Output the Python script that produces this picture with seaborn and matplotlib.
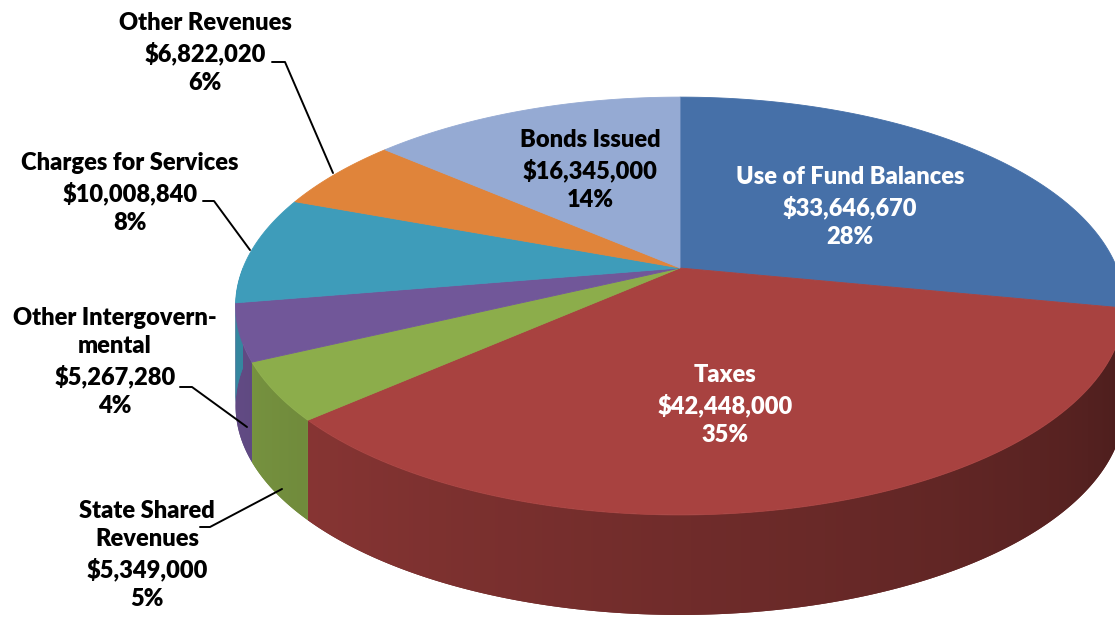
import numpy as np
import matplotlib
matplotlib.use("Agg")
import matplotlib.pyplot as plt
from matplotlib.patches import Polygon
import matplotlib.colors as mcolors
import seaborn as sns

# Revenue sources, clockwise from 12 o'clock
categories = ["Use of Fund Balances", "Taxes", "State Shared\nRevenues",
              "Other Intergovern-\nmental", "Charges for Services",
              "Other Revenues", "Bonds Issued"]
amounts = [33646670, 42448000, 5349000, 5267280, 10008840, 6822020, 16345000]
pct_labels = ["28%", "35%", "5%", "4%", "8%", "6%", "14%"]
colors = ["#4670A8", "#A84240", "#8CAD4B", "#715799", "#3E9CBA", "#E0843A", "#95AAD3"]

sns.set_theme(style="white")
plt.rcParams["font.family"] = ["Lato", "DejaVu Sans"]
palette = sns.color_palette(colors)

W, H = 1115, 618
fig = plt.figure(figsize=(W / 100, H / 100), dpi=100)
ax = fig.add_axes([0, 0, 1, 1])
ax.set_xlim(0, W)
ax.set_ylim(H, 0)
ax.axis("off")

# perspective ellipse geometry (pixel space)
CX, CY = 680, 268
A, B, K = 437, 202, 0.182
DEPTH = 100


def proj(phi_deg, r=1.0):
    phi = np.radians(phi_deg)
    u = r * np.sin(phi)
    v = -r * np.cos(phi)
    s = 1.0 / (1.0 - K * v)
    return CX + A * u * s, CY + B * v * s


total = float(sum(amounts))
bounds = np.concatenate([[0.0], np.cumsum(amounts) / total * 360.0])


def side_shade(phi):
    # darker toward the right-hand side of the rim
    t = np.clip((phi - 100.0) / 150.0, 0, 1)
    return 0.42 + 0.44 * t ** 0.9


# lookup from screen x to rim angle on the visible front half
phi_lut = np.linspace(90.0, 270.0, 2001)
x_lut, _ = proj(phi_lut)
order = np.argsort(x_lut)
x_sorted, phi_sorted = x_lut[order], phi_lut[order]

# rim (only the front half is visible), shaded with a horizontal gradient
for i, c in enumerate(palette):
    a0, a1 = bounds[i], bounds[i + 1]
    lo, hi = max(a0, 90.0), min(a1, 270.0)
    if hi <= lo:
        continue
    ph = np.linspace(lo, hi, max(int((hi - lo) * 3), 4))
    xs, ys = proj(ph)
    pts = list(zip(xs, ys)) + list(zip(xs[::-1], ys[::-1] + DEPTH))
    base = np.array(mcolors.to_rgb(c))
    poly = Polygon(pts, closed=True, facecolor=base * side_shade(0.5 * (lo + hi)),
                   edgecolor="none")
    ax.add_patch(poly)
    x0, x1 = xs.min() - 2, xs.max() + 2
    y0, y1 = ys.min() - 2, ys.max() + DEPTH + 2
    cols = np.linspace(x0, x1, 400)
    f = side_shade(np.interp(cols, x_sorted, phi_sorted))
    img = np.clip(base[None, None, :] * f[None, :, None], 0, 1)
    img = np.repeat(img, 2, axis=0)
    im = ax.imshow(img, extent=(x0, x1, y1, y0), aspect="auto",
                   interpolation="bilinear", zorder=1)
    im.set_clip_path(poly)

# top faces
for i, c in enumerate(palette):
    a0, a1 = bounds[i], bounds[i + 1]
    ph = np.linspace(a0, a1, max(int((a1 - a0) * 2), 4))
    xs, ys = proj(ph)
    pts = [(CX, CY)] + list(zip(xs, ys))
    ax.add_patch(Polygon(pts, closed=True, facecolor=c, edgecolor=c,
                         linewidth=0.6, antialiased=True, zorder=2))


def label_lines(idx):
    name = categories[idx]
    return f"{name}\n${amounts[idx]:,}\n{pct_labels[idx]}"


txt = dict(fontsize=17, fontweight="heavy", ha="center", va="center",
           linespacing=1.38, zorder=5)

# labels inside slices
ax.text(850, 207, label_lines(0), color="white", **txt)
ax.text(725, 405, label_lines(1), color="white", **txt)
ax.text(590, 170, label_lines(6), color="black", **txt)

# labels outside with leader lines
ax.text(205, 53, label_lines(5), color="black", **txt)
ax.text(130, 193, label_lines(4), color="black", **txt)
ax.text(115, 362, label_lines(3), color="black", **txt)
ax.text(147, 555, label_lines(2), color="black", **txt)

leaders = [
    [(272, 62), (285, 62), (333, 173)],
    [(203, 201), (214, 201), (250, 250)],
    [(180, 387), (192, 387), (247, 427)],
    [(200, 527), (210, 527), (282, 489)],
]
for seg in leaders:
    xs, ys = zip(*seg)
    ax.plot(xs, ys, color="black", linewidth=1.4, zorder=4)

fig.savefig("out.png", dpi=100)
